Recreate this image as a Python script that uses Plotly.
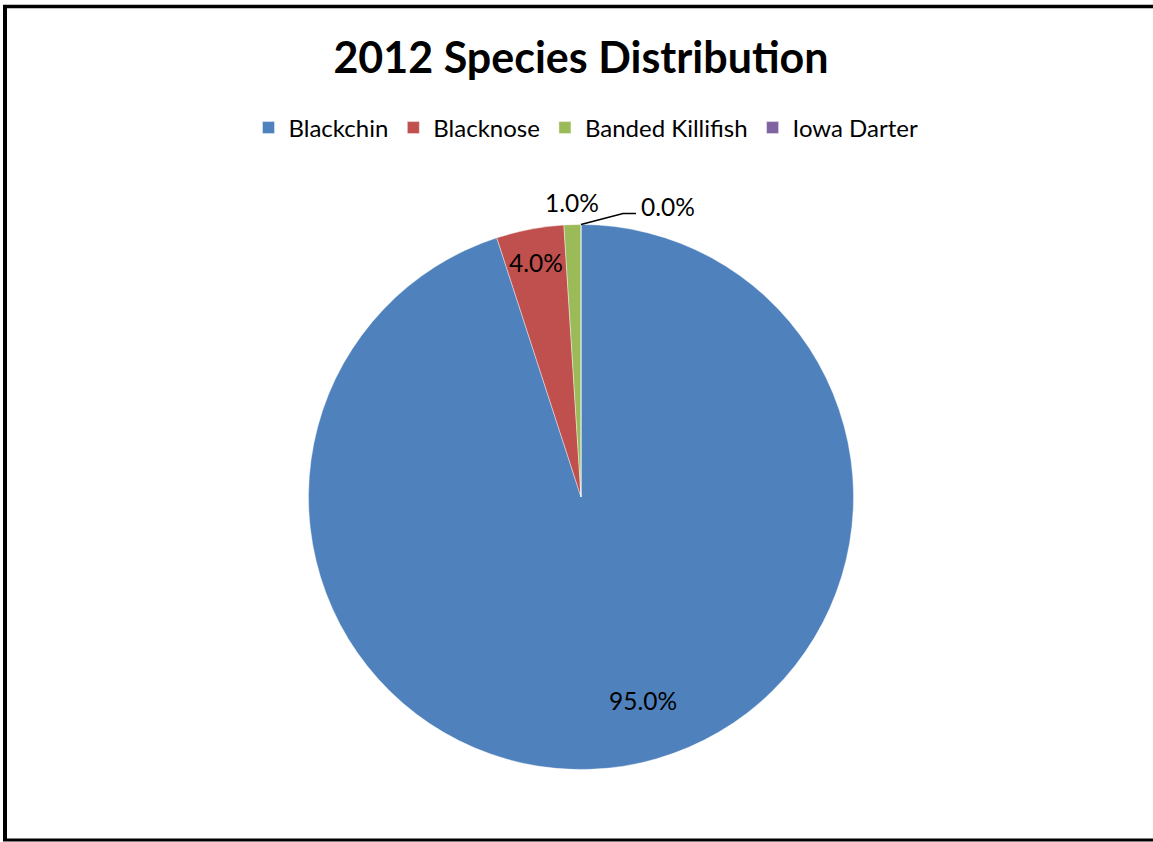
import math
import plotly.graph_objects as go

W, H = 1153, 842

species = ["Blackchin", "Blacknose", "Banded Killifish", "Iowa Darter"]
percent = [95.0, 4.0, 1.0, 0.0]
colors = ["#4F81BD", "#C0504D", "#9BBB59", "#8064A2"]
title_text = "2012 Species Distribution"

FONT = "Lato"

# pie geometry (pixels)
cx, cy, R = 581.0, 497.0, 272.5


def px(x):
    return x / W


def py(y):
    return 1 - y / H


fig = go.Figure()
fig.add_trace(go.Pie(
    labels=species,
    values=percent,
    marker=dict(colors=colors, line=dict(color="white", width=0.4)),
    sort=False,
    direction="clockwise",
    rotation=0,
    textinfo="none",
    hoverinfo="label+percent",
    domain=dict(x=[px(cx - R), px(cx + R)], y=[py(cy + R), py(cy - R)]),
    showlegend=True,
))

# data labels placed at slice angles derived from the data
total = sum(percent)
cum = 0.0
label_r = [0.78, 0.875, 1.08]
angle_adj = [-8.0, 0.0, 0.0]
annotations = []
mids = []
for i, v in enumerate(percent):
    start = cum / total * 360
    cum += v
    end = cum / total * 360
    mids.append((start + end) / 2)

LABEL_SIZE = 24.5
for i in range(3):
    th = math.radians(mids[i] + angle_adj[i])
    x = cx + R * label_r[i] * math.sin(th)
    y = cy - R * label_r[i] * math.cos(th)
    annotations.append(dict(
        x=px(x), y=py(y), xref="paper", yref="paper",
        text=f"{percent[i]:.1f}%", showarrow=False,
        font=dict(family=FONT, size=LABEL_SIZE, color="black"),
        xanchor="center", yanchor="middle",
    ))

# 0.0% label with leader line
th = math.radians(mids[3])
sx = cx + R * math.sin(th)
sy = cy - R * math.cos(th)
bx, by = sx + 42, sy - 11
ex = bx + 13
annotations.append(dict(
    x=px(ex + 3), y=py(by - 7), xref="paper", yref="paper",
    text=f"{percent[3]:.1f}%", showarrow=False,
    font=dict(family=FONT, size=LABEL_SIZE, color="black"),
    xanchor="left", yanchor="middle",
))

shapes = [
    dict(type="path", xref="paper", yref="paper",
         path=f"M {px(sx)},{py(sy)} L {px(bx)},{py(by)} L {px(ex)},{py(by)}",
         line=dict(color="black", width=1.5)),
    # chart frame
    dict(type="line", xref="paper", yref="paper", x0=px(5), x1=px(5), y0=py(6.5), y1=py(840),
         line=dict(color="black", width=4)),
    dict(type="line", xref="paper", yref="paper", x0=px(3), x1=px(1160), y0=py(6.5), y1=py(6.5),
         line=dict(color="black", width=3.5)),
    dict(type="line", xref="paper", yref="paper", x0=px(3), x1=px(1160), y0=py(840), y1=py(840),
         line=dict(color="black", width=3)),
]

fig.update_layout(
    width=W, height=H,
    margin=dict(l=0, r=0, t=0, b=0),
    paper_bgcolor="white", plot_bgcolor="white",
    title=dict(text=f"<b>{title_text}</b>", x=px(581), xanchor="center",
               y=py(58), yanchor="middle", yref="container",
               font=dict(family=FONT, size=43, color="black")),
    legend=dict(orientation="h", x=px(586), xanchor="center", y=py(128), yanchor="middle",
                font=dict(family=FONT, size=24, color="black"),
                itemwidth=30, itemclick=False),
    annotations=annotations,
    shapes=shapes,
)

fig.write_html("out.html")
